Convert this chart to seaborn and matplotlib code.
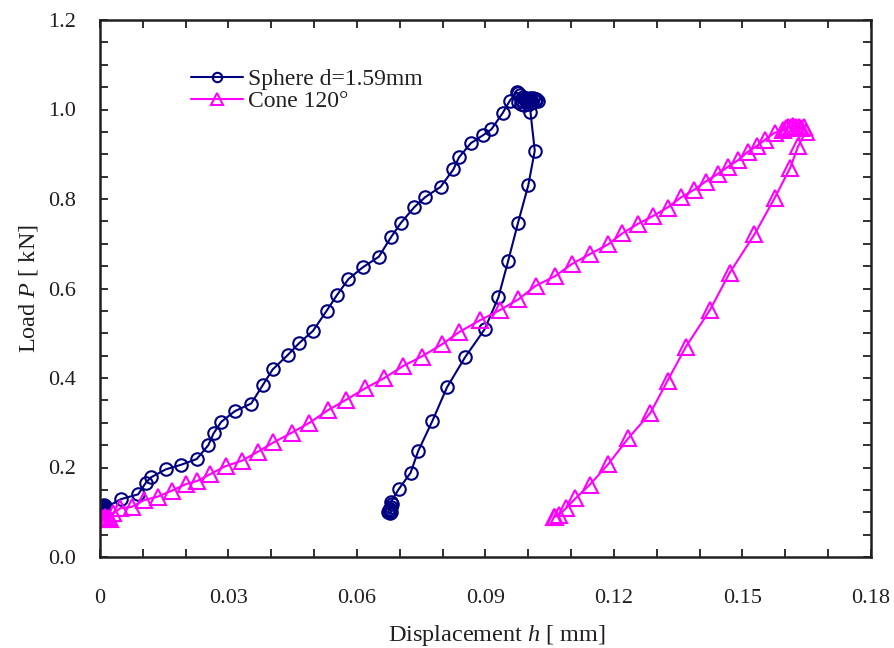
import matplotlib
matplotlib.use("Agg")
import matplotlib.pyplot as plt
import seaborn as sns
import pandas as pd
from matplotlib.ticker import MultipleLocator, FixedLocator

# ---- data ----
sphere_h = [0.0000, 0.0002, 0.0004, 0.0006, 0.0008, 0.0010, 0.0012, 0.0003, 0.0007,
            0.0048, 0.0089, 0.0107, 0.0119, 0.0154, 0.0189, 0.0226, 0.0253, 0.0265,
            0.0283, 0.0315, 0.0353, 0.0380, 0.0403, 0.0438, 0.0465, 0.0497, 0.0529,
            0.0553, 0.0580, 0.0613, 0.0651, 0.0679, 0.0702, 0.0734, 0.0759, 0.0795,
            0.0825, 0.0838, 0.0866, 0.0895, 0.0914, 0.0940, 0.0957, 0.0973,
            0.0975, 0.0981, 0.0987, 0.0993, 0.0999, 0.1005, 0.1011, 0.1019, 0.1015,
            0.1007, 0.0999, 0.0991, 0.0984, 0.0977, 0.0983, 0.0995, 0.1009, 0.1017,
            0.1023, 0.1005, 0.1015, 0.1000, 0.0976, 0.0953, 0.0930, 0.0898, 0.0852,
            0.0810, 0.0776, 0.0743, 0.0725, 0.0697,
            0.0680, 0.0681, 0.0679, 0.0677, 0.0674, 0.0672, 0.0676, 0.0680, 0.0678]
sphere_P = [0.104, 0.108, 0.111, 0.113, 0.115, 0.117, 0.114, 0.103, 0.107,
            0.129, 0.140, 0.166, 0.178, 0.196, 0.206, 0.219, 0.250, 0.276,
            0.302, 0.326, 0.343, 0.384, 0.419, 0.451, 0.478, 0.505, 0.550,
            0.585, 0.621, 0.647, 0.671, 0.714, 0.746, 0.782, 0.804, 0.827,
            0.866, 0.893, 0.925, 0.943, 0.956, 0.992, 1.020, 1.038,
            1.036, 1.032, 1.028, 1.025, 1.023, 1.026, 1.025, 1.022, 1.018,
            1.014, 1.012, 1.010, 1.013, 1.016, 1.022, 1.020, 1.017, 1.023,
            1.020, 0.994, 0.908, 0.831, 0.747, 0.662, 0.580, 0.509, 0.446,
            0.379, 0.304, 0.237, 0.188, 0.151,
            0.124, 0.118, 0.112, 0.108, 0.104, 0.100, 0.098, 0.101, 0.104]

cone_h = [0.0000, 0.0006, 0.0012, 0.0018, 0.0023, 0.0031, 0.0004, 0.0015,
          0.0047, 0.0074, 0.0103, 0.0135, 0.0167, 0.0201, 0.0227, 0.0257, 0.0293,
          0.0331, 0.0368, 0.0405, 0.0448, 0.0489, 0.0532, 0.0574, 0.0619, 0.0662,
          0.0708, 0.0751, 0.0798, 0.0839, 0.0887, 0.0934, 0.0977, 0.1017, 0.1063,
          0.1102, 0.1144, 0.1187, 0.1219, 0.1255, 0.1291, 0.1325, 0.1357, 0.1386,
          0.1414, 0.1442, 0.1466, 0.1490, 0.1513, 0.1533, 0.1552, 0.1575, 0.1595,
          0.1601, 0.1607, 0.1613, 0.1619, 0.1625, 0.1631, 0.1637, 0.1643, 0.1648,
          0.1630, 0.1611, 0.1575, 0.1528, 0.1470, 0.1424, 0.1368, 0.1325, 0.1285,
          0.1233, 0.1187, 0.1144, 0.1110, 0.1088, 0.1071, 0.1062, 0.1059]
cone_P = [0.086, 0.088, 0.090, 0.088, 0.086, 0.098, 0.084, 0.085,
          0.109, 0.112, 0.127, 0.135, 0.148, 0.163, 0.170, 0.185, 0.203,
          0.215, 0.235, 0.256, 0.278, 0.300, 0.328, 0.351, 0.377, 0.399,
          0.427, 0.448, 0.475, 0.503, 0.529, 0.552, 0.576, 0.606, 0.628,
          0.655, 0.677, 0.699, 0.723, 0.744, 0.762, 0.781, 0.804, 0.820,
          0.839, 0.856, 0.872, 0.887, 0.906, 0.918, 0.932, 0.948, 0.954,
          0.958, 0.962, 0.960, 0.963, 0.961, 0.962, 0.958, 0.960, 0.950,
          0.918, 0.869, 0.802, 0.721, 0.635, 0.552, 0.470, 0.394, 0.322,
          0.265, 0.208, 0.162, 0.131, 0.109, 0.094, 0.090, 0.089]

series_labels = ["Sphere d=1.59mm", "Cone 120\u00b0"]
x_ticks = [0, 0.03, 0.06, 0.09, 0.12, 0.15, 0.18]
x_tick_labels = ["0", "0.03", "0.06", "0.09", "0.12", "0.15", "0.18"]
y_ticks = [0.0, 0.2, 0.4, 0.6, 0.8, 1.0, 1.2]
y_tick_labels = ["0.0", "0.2", "0.4", "0.6", "0.8", "1.0", "1.2"]

# ---- style ----
sns.set_theme(style="white")
plt.rcParams["font.family"] = ["Liberation Serif", "DejaVu Serif"]
plt.rcParams["mathtext.fontset"] = "custom"
plt.rcParams["mathtext.rm"] = "Liberation Serif"
plt.rcParams["mathtext.it"] = "Liberation Serif:italic"

txt = "#231f20"
fig = plt.figure(figsize=(8.95, 6.48), dpi=100)
ax = fig.add_axes([100 / 895, 1 - 557 / 648, 771 / 895, 537 / 648])

df_s = pd.DataFrame({"h": sphere_h, "P": sphere_P})
df_c = pd.DataFrame({"h": cone_h, "P": cone_P})

sns.lineplot(data=df_s, x="h", y="P", sort=False, estimator=None, ax=ax,
             color="#000080", lw=1.5, marker="o", markersize=9,
             markerfacecolor="none", markeredgecolor="#000080",
             markeredgewidth=1.5, label=series_labels[0])
sns.lineplot(data=df_c, x="h", y="P", sort=False, estimator=None, ax=ax,
             color="#ff00ff", lw=1.5, marker="^", markersize=11,
             markerfacecolor="none", markeredgecolor="#ff00ff",
             markeredgewidth=1.5, label=series_labels[1])

ax.set_xlim(0, 0.18)
ax.set_ylim(0, 1.2)
ax.xaxis.set_major_locator(FixedLocator(x_ticks))
ax.set_xticklabels(x_tick_labels)
ax.xaxis.set_minor_locator(MultipleLocator(0.01))
ax.yaxis.set_major_locator(FixedLocator(y_ticks))
ax.set_yticklabels(y_tick_labels)
ax.yaxis.set_minor_locator(MultipleLocator(0.05))

ax.tick_params(which="both", direction="in", top=True, right=True,
               bottom=True, left=True, length=6, width=1.3, color=txt,
               labelsize=16, labelcolor=txt)
ax.tick_params(axis="x", which="major", pad=23)
ax.tick_params(axis="y", which="major", pad=17)
for s in ax.spines.values():
    s.set_color(txt)
    s.set_linewidth(1.8)

ax.set_xlabel("Displacement $h$ [ mm]", fontsize=17.5, color=txt,
              labelpad=11, x=0.515)
ax.set_ylabel("Load $P$ [ kN]", fontsize=17.5, color=txt, labelpad=6)

leg = ax.legend(loc="upper left", bbox_to_anchor=(0.097, 0.94), frameon=False,
                fontsize=17, handlelength=2.2, handletextpad=0.2,
                labelspacing=0.0, borderaxespad=0.3, markerscale=0.75)
for t in leg.get_texts():
    t.set_color(txt)

fig.savefig("out.png", dpi=100)
